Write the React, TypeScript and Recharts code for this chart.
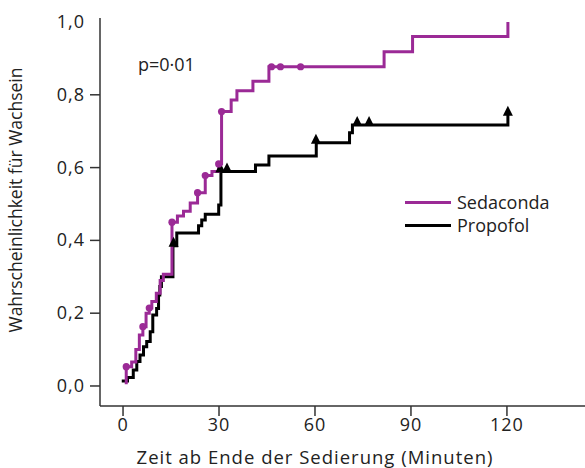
import React from 'react';
import { ComposedChart, Line, Scatter, XAxis, YAxis } from 'recharts';

const PURPLE = '#9b2a96';
const BLACK = '#000000';
const AXIS = '#333333';
const FONT = '"Open Sans", sans-serif';

const xTicks = [0, 30, 60, 90, 120];
const yTicks = [0, 0.2, 0.4, 0.6, 0.8, 1.0];

// Sedaconda: step curve (minutes, probability)
const sedacondaTimes = [1, 1, 2.7, 4.0, 5.1, 6.2, 7.2, 8.2, 9.0, 10.4, 11.6, 12.6, 15.3, 17.0, 18.9, 21.0, 23.3, 25.7, 27.8, 29.9, 30.8, 33.8, 35.6, 40.6, 45.6, 81.6, 90.5, 120.3];
const sedacondaValues = [0.005, 0.053, 0.066, 0.1, 0.14, 0.163, 0.2, 0.214, 0.232, 0.255, 0.29, 0.307, 0.45, 0.467, 0.48, 0.503, 0.531, 0.578, 0.589, 0.61, 0.754, 0.786, 0.811, 0.837, 0.877, 0.918, 0.96, 1.0];
const sedacondaCensorTimes = [1, 6.2, 8.2, 15.3, 23.3, 25.7, 29.9, 30.8, 46.4, 49.2, 55.5];
const sedacondaCensorValues = [0.053, 0.163, 0.214, 0.45, 0.531, 0.578, 0.61, 0.754, 0.877, 0.877, 0.877];

// Propofol
const propofolTimes = [-0.4, 1.4, 3.2, 4.3, 5.3, 6.4, 7.4, 8.5, 9.3, 10.5, 11.1, 11.5, 12.0, 15.6, 16.8, 23.6, 24.6, 25.7, 29.9, 30.6, 41.4, 45.6, 60.4, 70.8, 71.7, 120.3];
const propofolValues = [0.014, 0.023, 0.044, 0.067, 0.085, 0.108, 0.122, 0.149, 0.195, 0.213, 0.25, 0.273, 0.3, 0.385, 0.42, 0.44, 0.456, 0.472, 0.497, 0.589, 0.607, 0.632, 0.668, 0.696, 0.717, 0.745];
const propofolCensorTimes = [15.8, 30.4, 32.5, 60.3, 73.2, 76.9, 120.3];
const propofolCensorValues = [0.385, 0.589, 0.589, 0.668, 0.717, 0.717, 0.745];

const zip = (ts: number[], vs: number[]) => ts.map((t, i) => ({ t, v: vs[i] }));

const sedaconda = zip(sedacondaTimes, sedacondaValues);
const sedacondaCensor = zip(sedacondaCensorTimes, sedacondaCensorValues);
const propofol = zip(propofolTimes, propofolValues);
const propofolCensor = zip(propofolCensorTimes, propofolCensorValues);

const XTick = (props: any) => {
  const { x, y, payload } = props;
  return (
    <g>
      <line x1={x} y1={y} x2={x} y2={y + 10} stroke={AXIS} strokeWidth={1.5} />
      <text x={x} y={y + 25} textAnchor="middle" fill="#222" fontSize={18} letterSpacing={1} fontFamily={FONT}>
        {payload.value}
      </text>
    </g>
  );
};

const YTick = (props: any) => {
  const { x, y, payload } = props;
  const label = payload.value.toFixed(1).replace('.', ',');
  return (
    <g>
      {payload.value < 1 && <line x1={x - 10} y1={y} x2={x} y2={y} stroke={AXIS} strokeWidth={1.5} />}
      <text x={x - 15} y={y + 6} textAnchor="end" fill="#222" fontSize={18} letterSpacing={1} fontFamily={FONT}>
        {label}
      </text>
    </g>
  );
};

const Dot = (props: any) => <circle cx={props.cx} cy={props.cy} r={3.6} fill={PURPLE} />;
const Tri = (props: any) => {
  const { cx, cy } = props;
  return <path d={`M${cx},${cy - 9} L${cx + 5},${cy + 1} L${cx - 5},${cy + 1} Z`} fill={BLACK} />;
};

export default function App() {
  return (
    <div style={{ position: 'relative', width: 585, height: 468, fontFamily: FONT, color: '#222' }}>
      <style>{'body{margin:0}'}</style>
      <ComposedChart width={585} height={468} margin={{ top: 18, right: 0, bottom: 0, left: 40 }}>
        <XAxis
          dataKey="t"
          type="number"
          domain={[-7.2, 144.4]}
          ticks={xTicks}
          allowDataOverflow
          height={62}
          stroke={AXIS}
          strokeWidth={1.5}
          tickLine={false}
          tickSize={0}
          tickMargin={0}
          tick={<XTick />}
        />
        <YAxis
          dataKey="v"
          type="number"
          domain={[-0.055, 1.011]}
          ticks={yTicks}
          allowDataOverflow
          width={60}
          stroke={AXIS}
          strokeWidth={1.5}
          tickLine={false}
          tickSize={0}
          tickMargin={0}
          tick={<YTick />}
        />
        <Line data={propofol} dataKey="v" type="stepAfter" stroke={BLACK} strokeWidth={3} dot={false} isAnimationActive={false} />
        <Scatter data={propofolCensor} dataKey="v" shape={<Tri />} isAnimationActive={false} />
        <Line data={sedaconda} dataKey="v" type="stepAfter" stroke={PURPLE} strokeWidth={3} dot={false} isAnimationActive={false} />
        <Scatter data={sedacondaCensor} dataKey="v" shape={<Dot />} isAnimationActive={false} />
      </ComposedChart>

      <div style={{ position: 'absolute', left: 138, top: 52, fontSize: 18 }}>p=0·01</div>

      <div style={{ position: 'absolute', left: 405, top: 191, fontSize: 18, lineHeight: '23px' }}>
        <div style={{ display: 'flex', alignItems: 'center' }}>
          <span style={{ display: 'inline-block', width: 46, height: 3, background: PURPLE, marginRight: 6 }} />
          Sedaconda
        </div>
        <div style={{ display: 'flex', alignItems: 'center' }}>
          <span style={{ display: 'inline-block', width: 46, height: 3, background: BLACK, marginRight: 6 }} />
          Propofol
        </div>
      </div>

      <div
        style={{
          position: 'absolute',
          left: 15,
          top: 200,
          fontSize: 17.5,
          whiteSpace: 'nowrap',
          transform: 'translate(-50%, -50%) rotate(-90deg)',
        }}
      >
        Wahrscheinlichkeit für Wachsein
      </div>

      <div
        style={{
          position: 'absolute',
          left: 315,
          top: 444,
          fontSize: 18.5,
          letterSpacing: 1,
          whiteSpace: 'nowrap',
          transform: 'translateX(-50%)',
        }}
      >
        Zeit ab Ende der Sedierung (Minuten)
      </div>
    </div>
  );
}
